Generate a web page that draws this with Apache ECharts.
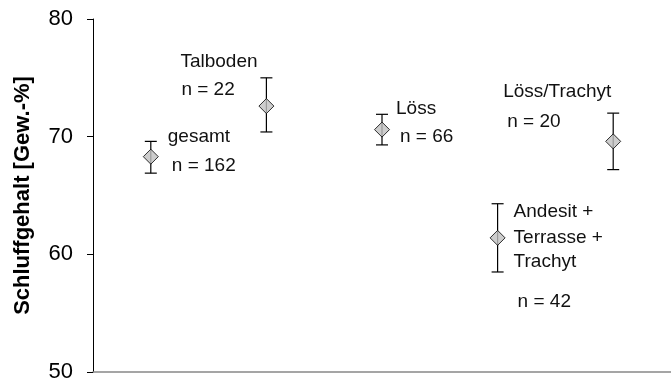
<!DOCTYPE html>
<html>
<head>
<meta charset="utf-8">
<script src="https://cdn.jsdelivr.net/npm/echarts@6/dist/echarts.min.js"></script>
<style>
  html, body { margin: 0; padding: 0; background: #fff; }
  #chart { width: 671px; height: 383px; }
</style>
</head>
<body>
<div id="chart"></div>
<script>
// Daten
var groups = ['gesamt', 'Talboden', 'Löss', 'Andesit + Terrasse + Trachyt', 'Löss/Trachyt'];
var nameLines = [['gesamt'], ['Talboden'], ['Löss'], ['Andesit +', 'Terrasse +', 'Trachyt'], ['Löss/Trachyt']];
var means = [68.3, 72.6, 70.6, 61.4, 69.6];
var lows = [66.9, 70.4, 69.3, 58.5, 67.2];
var highs = [69.6, 75.0, 71.9, 64.3, 72.0];
var counts = [162, 22, 66, 42, 20];
var yMin = 50, yMax = 80, yStep = 10;

// Beschriftungs-Versatz relativ zum Mittelwert-Symbol (px): [dx, dy] je Zeile, letzte Zeile = n
var labelOffsets = [
  [[17, -20], [21, 9]],
  [[-86, -44], [-85, -16]],
  [[14, -21], [18, 7]],
  [[16, -26], [16, 0], [16, 24], [20, 64]],
  [[-110, -50], [-106, -20]]
];

var chart = echarts.init(document.getElementById('chart'));
var font = '"Liberation Sans", Arial, sans-serif';

function renderErr(params, api) {
  var i = api.value(0);
  var top = api.coord([i, api.value(2)]);
  var bot = api.coord([i, api.value(1)]);
  var mid = api.coord([i, api.value(3)]);
  var cap = 6;
  var st = { stroke: '#000', lineWidth: 1.2 };
  var kids = [
    { type: 'line', shape: { x1: top[0], y1: top[1], x2: bot[0], y2: bot[1] }, style: st },
    { type: 'line', shape: { x1: top[0] - cap, y1: top[1], x2: top[0] + cap, y2: top[1] }, style: st },
    { type: 'line', shape: { x1: bot[0] - cap, y1: bot[1], x2: bot[0] + cap, y2: bot[1] }, style: st }
  ];
  var lines = nameLines[i].concat(['n = ' + counts[i]]);
  lines.forEach(function (t, k) {
    var off = labelOffsets[i][k];
    kids.push({
      type: 'text',
      style: {
        x: mid[0] + off[0], y: mid[1] + off[1], text: t,
        fill: '#111', font: '19px ' + font,
        textAlign: 'left', textVerticalAlign: 'middle'
      }
    });
  });
  return { type: 'group', children: kids };
}

chart.setOption({
  animation: false,
  grid: { left: 93, right: -8, top: 19, bottom: 11 },
  xAxis: {
    type: 'category',
    data: groups,
    axisLine: { lineStyle: { color: '#888', width: 1.5 } },
    axisTick: { show: false },
    axisLabel: { show: false },
    splitLine: { show: false }
  },
  yAxis: {
    type: 'value',
    min: yMin, max: yMax, interval: yStep,
    name: 'Schluffgehalt [Gew.-%]',
    nameLocation: 'middle',
    nameGap: 59,
    nameTextStyle: { fontFamily: font, fontSize: 22, fontWeight: 'bold', color: '#000' },
    axisLine: { show: true, lineStyle: { color: '#000', width: 1 } },
    axisTick: { show: true, length: 6, lineStyle: { color: '#000' } },
    axisLabel: { fontFamily: font, fontSize: 22, color: '#000', margin: 20 },
    splitLine: { show: false }
  },
  series: [
    {
      type: 'custom',
      renderItem: renderErr,
      data: groups.map(function (g, i) { return [i, lows[i], highs[i], means[i]]; }),
      z: 2
    },
    {
      type: 'scatter',
      symbol: 'diamond',
      symbolSize: [15, 15],
      itemStyle: { color: '#c0c0c0', borderColor: '#000', borderWidth: 1 },
      data: means.map(function (m, i) { return [i, m]; }),
      z: 3
    }
  ]
});
</script>
</body>
</html>
